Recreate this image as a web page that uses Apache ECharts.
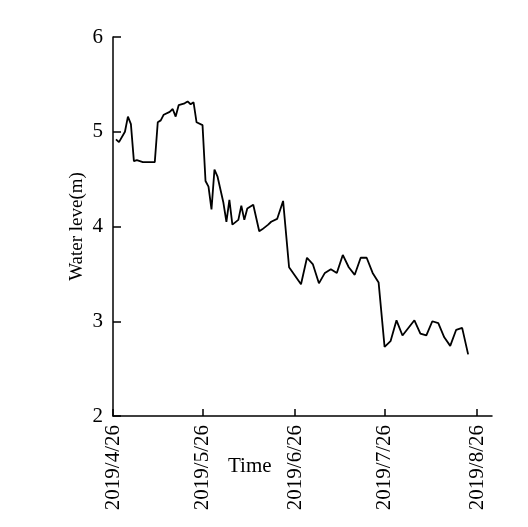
<!DOCTYPE html>
<html>
<head>
<meta charset="utf-8">
<script src="https://cdn.jsdelivr.net/npm/echarts@6/dist/echarts.min.js"></script>
<style>
  html, body { margin: 0; padding: 0; background: #fff; }
  #chart { width: 528px; height: 527px; }
</style>
</head>
<body>
<div id="chart"></div>
<script>
  var dates = [
    '2019/4/27', '2019/4/28', '2019/4/30', '2019/5/1', '2019/5/2', '2019/5/3', '2019/5/4', '2019/5/5',
    '2019/5/6', '2019/5/10', '2019/5/11', '2019/5/12', '2019/5/13', '2019/5/15', '2019/5/16', '2019/5/17',
    '2019/5/18', '2019/5/20', '2019/5/21', '2019/5/22', '2019/5/23', '2019/5/24', '2019/5/26', '2019/5/27',
    '2019/5/28', '2019/5/29', '2019/5/30', '2019/5/31', '2019/6/2', '2019/6/3', '2019/6/4', '2019/6/5',
    '2019/6/7', '2019/6/8', '2019/6/9', '2019/6/10', '2019/6/12', '2019/6/14', '2019/6/15', '2019/6/17',
    '2019/6/18', '2019/6/20', '2019/6/22', '2019/6/24', '2019/6/28', '2019/6/30', '2019/7/2', '2019/7/4',
    '2019/7/6', '2019/7/8', '2019/7/10', '2019/7/12', '2019/7/14', '2019/7/16', '2019/7/18', '2019/7/20',
    '2019/7/22', '2019/7/24', '2019/7/26', '2019/7/28', '2019/7/30', '2019/8/1', '2019/8/5', '2019/8/7',
    '2019/8/9', '2019/8/11', '2019/8/13', '2019/8/15', '2019/8/17', '2019/8/19', '2019/8/21', '2019/8/23'
  ];
  var waterLevel = [
    4.92, 4.89, 5.00, 5.16, 5.08, 4.69, 4.70, 4.69,
    4.68, 4.68, 5.10, 5.12, 5.18, 5.21, 5.24, 5.16,
    5.28, 5.30, 5.32, 5.29, 5.31, 5.10, 5.07, 4.48,
    4.42, 4.18, 4.60, 4.53, 4.25, 4.05, 4.28, 4.02,
    4.07, 4.22, 4.07, 4.19, 4.23, 3.95, 3.97, 4.02,
    4.05, 4.08, 4.27, 3.57, 3.39, 3.67, 3.60, 3.40,
    3.51, 3.55, 3.51, 3.70, 3.57, 3.49, 3.67, 3.67,
    3.51, 3.41, 2.73, 2.79, 3.01, 2.85, 3.01, 2.87,
    2.85, 3.00, 2.98, 2.83, 2.74, 2.91, 2.93, 2.65
  ];
  var xTickLabels = ['2019/4/26', '2019/5/26', '2019/6/26', '2019/7/26', '2019/8/26'];
  var xMin = '2019/4/26', xMax = '2019/8/31';

  // x axis counts days since xMin
  var DAY = 86400000;
  function parseDay(s) {
    var p = s.split('/');
    return Date.UTC(+p[0], +p[1] - 1, +p[2]);
  }
  function dayNo(s) {
    return Math.round((parseDay(s) - parseDay(xMin)) / DAY);
  }

  var seriesData = dates.map(function (d, i) { return [dayNo(d), waterLevel[i]]; });
  var tickVals = xTickLabels.map(dayNo);
  var font = '"Liberation Serif", "Times New Roman", serif';

  var myCharts = echarts.init(document.getElementById('chart'));
  var option = {
    animation: false,
    grid: { left: 113, top: 37, right: 36, bottom: 111, containLabel: false },
    xAxis: {
      type: 'value',
      min: 0,
      max: dayNo(xMax),
      axisLine: { lineStyle: { color: '#000', width: 1.5 } },
      axisTick: { show: true, inside: true, length: 7, customValues: tickVals, lineStyle: { color: '#000', width: 1.5 } },
      axisLabel: {
        customValues: tickVals,
        formatter: function (v) {
          var i = tickVals.indexOf(Math.round(v));
          return i < 0 ? '' : xTickLabels[i];
        },
        rotate: 90,
        margin: 9,
        color: '#000',
        fontFamily: font,
        fontSize: 21
      },
      splitLine: { show: false }
    },
    yAxis: {
      type: 'value',
      min: 2,
      max: 6,
      interval: 1,
      name: 'Water leve(m)',
      nameLocation: 'middle',
      nameGap: 26,
      nameMoveOverlap: false,
      nameTextStyle: { color: '#000', fontFamily: font, fontSize: 19 },
      axisLine: { show: true, lineStyle: { color: '#000', width: 1.5 } },
      axisTick: { show: true, inside: true, length: 8, lineStyle: { color: '#000', width: 1.5 } },
      axisLabel: { color: '#000', fontFamily: font, fontSize: 21, margin: 10 },
      splitLine: { show: false }
    },
    graphic: [{
      type: 'text',
      left: 228,
      top: 456,
      style: { text: 'Time', fill: '#000', font: '21px ' + font }
    }],
    series: [{
      type: 'line',
      data: seriesData,
      showSymbol: false,
      lineStyle: { color: '#000', width: 1.8 }
    }]
  };
  myCharts.setOption(option);
</script>
</body>
</html>
